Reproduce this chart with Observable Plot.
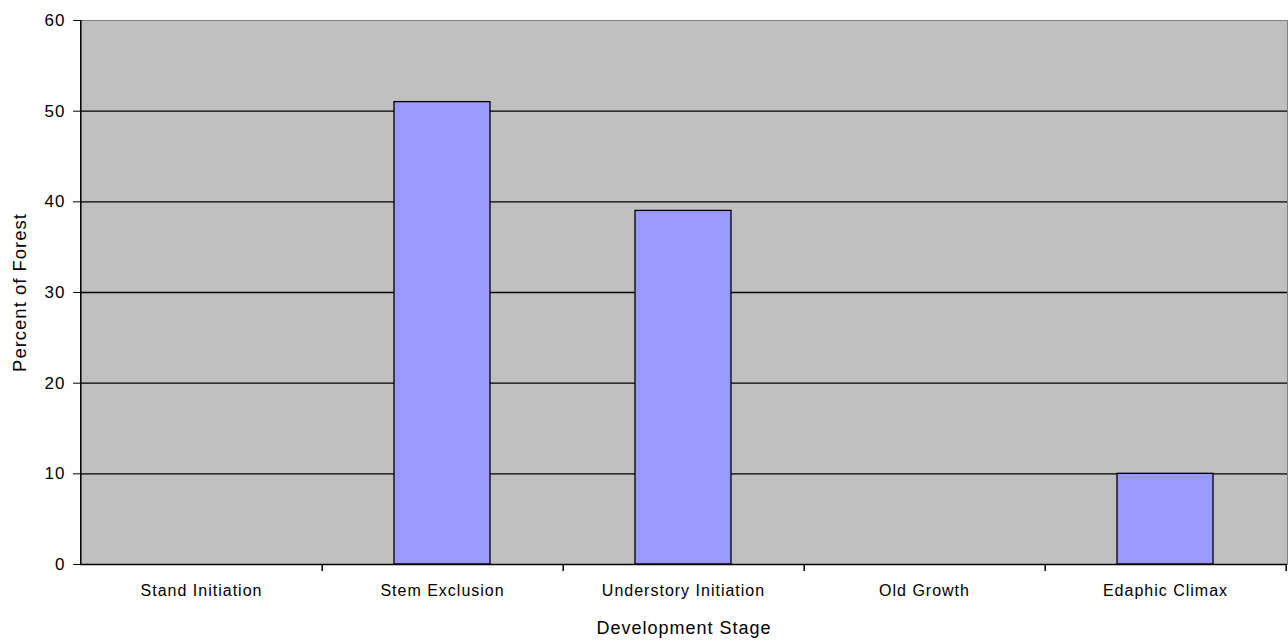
<!DOCTYPE html>
<html>
<head>
<meta charset="utf-8">
<script src="https://cdn.jsdelivr.net/npm/d3@7"></script>
<script src="https://cdn.jsdelivr.net/npm/@observablehq/plot@0.6"></script>
<style>
  html, body { margin: 0; padding: 0; background: #ffffff; }
  svg { display: block; }
</style>
</head>
<body>
<div id="chart"></div>
<script>
const stages = ["Stand Initiation", "Stem Exclusion", "Understory Initiation", "Old Growth", "Edaphic Climax"];
const percents = [0, 51, 39, 0, 10];
const yTicks = [0, 10, 20, 30, 40, 50, 60];
const gridValues = [10, 20, 30, 40, 50];

const data = stages.map((s, i) => ({stage: s, value: percents[i]}));

const W = 1288, H = 641;
const mL = 80, mR = 1, mT = 20, mB = 77;
const step = (W - mL - mR) / stages.length;

const chart = Plot.plot({
  width: W,
  height: H,
  marginLeft: mL,
  marginRight: mR,
  marginTop: mT,
  marginBottom: mB,
  style: {fontFamily: "Arial, 'Liberation Sans', sans-serif", fontSize: "16px", letterSpacing: "1px", color: "#000", background: "#fff"},
  x: {domain: stages, paddingInner: 0.6, paddingOuter: 0.3},
  y: {domain: [0, 60]},
  marks: [
    Plot.frame({fill: "#c0c0c0", stroke: "#808080"}),
    Plot.ruleY(gridValues, {stroke: "#000", strokeWidth: 1.3}),
    Plot.barY(data, {x: "stage", y: "value", fill: "#9999ff", stroke: "#000", strokeWidth: 1.3}),
    Plot.ruleY([0], {stroke: "#000", strokeWidth: 1.5}),
    Plot.ruleX([stages[0]], {dx: -step / 2, y1: 0, y2: 60, stroke: "#000", strokeWidth: 1.5}),
    Plot.ruleX(stages, {dx: step / 2, y1: 0, y2: 0, insetBottom: -7, stroke: "#000", strokeWidth: 1.5}),
    Plot.axisY({ticks: yTicks, tickSize: 7, tickPadding: 8, stroke: "#000", fontSize: 17, label: null}),
    Plot.axisY({ticks: [], fontSize: 18.5, label: "Percent of Forest", labelAnchor: "center", labelOffset: 68, labelArrow: "none"}),
    Plot.axisX({tickSize: 0, tickPadding: 20, label: null}),
    Plot.axisX({ticks: [], fontSize: 18, label: "Development Stage", labelAnchor: "center", labelOffset: 69, labelArrow: "none"})
  ]
});
document.getElementById("chart").appendChild(chart);
</script>
</body>
</html>
